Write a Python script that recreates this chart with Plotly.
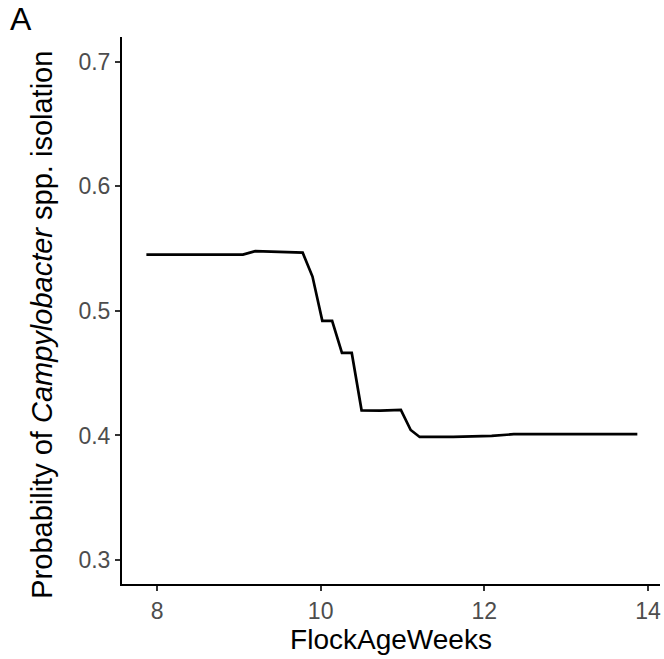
import plotly.graph_objects as go

weeks = [7.87, 9.05, 9.20, 9.32, 9.50, 9.60, 9.78, 9.90, 10.02, 10.14, 10.26, 10.38,
         10.50, 10.73, 10.98, 11.10, 11.21, 11.62, 12.09, 12.36, 13.87]
prob = [0.5452, 0.5452, 0.5480, 0.5478, 0.5474, 0.5468, 0.5468, 0.5276, 0.4920, 0.4920,
        0.4663, 0.4663, 0.4202, 0.4200, 0.4205, 0.4044, 0.3988, 0.3988, 0.3996, 0.4010, 0.4010]

x_ticks = [8, 10, 12, 14]
y_ticks = [0.3, 0.4, 0.5, 0.6, 0.7]

fig = go.Figure()
fig.add_trace(go.Scatter(x=weeks, y=prob, mode="lines",
                         line=dict(color="black", width=2.7), showlegend=False))

axis_common = dict(showline=True, linecolor="black", linewidth=2, showgrid=False,
                   zeroline=False, ticks="outside", ticklen=5, tickwidth=1.5,
                   tickcolor="#333333",
                   tickfont=dict(family="Liberation Sans, Arial", size=23, color="#4d4d4d"),
                   mirror=False)

fig.update_layout(
    width=664, height=659,
    margin=dict(l=122, r=4, t=37, b=75),
    paper_bgcolor="white", plot_bgcolor="white",
    font=dict(family="Liberation Sans, Arial", color="black"),
    xaxis=dict(range=[7.572, 14.147], tickvals=x_ticks,
               ticktext=[str(v) for v in x_ticks],
               title=dict(text="FlockAgeWeeks", font=dict(size=28, color="black"), standoff=1),
               **axis_common),
    yaxis=dict(range=[0.2807, 0.72], tickvals=y_ticks,
               ticktext=[f"{v:.1f}" for v in y_ticks],
               **axis_common),
    annotations=[
        dict(text="A", xref="paper", yref="paper", x=-0.212, y=1.033,
             xanchor="left", yanchor="middle", showarrow=False,
             font=dict(size=32, color="black", family="Liberation Sans, Arial")),
        dict(text="Probability of <i>Campylobacter</i> spp. isolation",
             xref="paper", yref="paper", x=-0.1487, y=0.474, textangle=-90,
             xanchor="center", yanchor="middle", showarrow=False,
             font=dict(size=29, color="black", family="Liberation Sans, Arial")),
    ],
)

fig.write_html("out.html")
